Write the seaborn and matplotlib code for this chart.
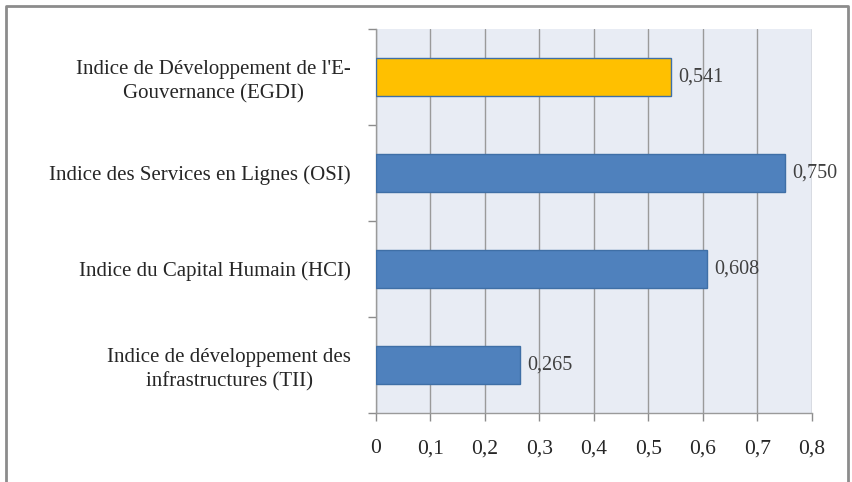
import matplotlib
matplotlib.use("Agg")
import matplotlib.pyplot as plt
import matplotlib.ticker as mticker
from matplotlib.lines import Line2D
import pandas as pd
import seaborn as sns

# Data
categories = [
    "Indice de Développement de l'E-\nGouvernance (EGDI)",
    "Indice des Services en Lignes (OSI)",
    "Indice du Capital Humain (HCI)",
    "Indice de développement des\ninfrastructures (TII)",
]
values = [0.541, 0.750, 0.608, 0.265]
groups = ["EGDI", "autre", "autre", "autre"]
xticks = [0, 0.1, 0.2, 0.3, 0.4, 0.5, 0.6, 0.7, 0.8]

df = pd.DataFrame({"indice": categories, "valeur": values, "groupe": groups})

sns.set_theme(style="white")
plt.rcParams["font.family"] = ["Liberation Serif", "DejaVu Serif"]

fig = plt.figure(figsize=(8.53, 4.82), dpi=100)
ax = fig.add_axes([0.4408, 0.1432, 0.5111, 0.7967])

sns.barplot(data=df, x="valeur", y="indice", hue="groupe", orient="h",
            palette={"EGDI": "#FFC000", "autre": "#4F81BD"}, saturation=1,
            width=0.4, dodge=False, legend=False, ax=ax, zorder=3)
for p in ax.patches:
    p.set_edgecolor("#3F6FA6")
    p.set_linewidth(1.0)

# value labels with decimal comma
for i, v in enumerate(values):
    ax.text(v + 0.013, i, f"{v:.3f}".replace(".", ","), va="center", ha="left",
            fontsize=14.5, color="#404040", zorder=4)

ax.set_facecolor("#E8ECF4")
ax.set_xlim(0, 0.8)
ax.set_ylim(3.5, -0.5)
ax.set_xticks(xticks)
ax.xaxis.set_major_formatter(mticker.FuncFormatter(
    lambda x, pos: "0" if x == 0 else f"{x:.1f}".replace(".", ",")))
ax.grid(axis="x", color="#9a9a9a", linewidth=1.0, zorder=0)
ax.set_axisbelow(True)

# y ticks at category boundaries, labels at centres
ax.set_yticks(range(len(categories)))
ax.set_yticklabels(categories, multialignment="center", linespacing=1.35)
ax.set_yticks([-0.5, 0.5, 1.5, 2.5, 3.5], minor=True)
ax.tick_params(axis="y", which="major", left=True, length=0, pad=18,
               labelsize=15, labelcolor="#262626")
ax.tick_params(axis="y", which="minor", left=True, length=6, color="#8c8c8c", width=1)
ax.tick_params(axis="x", bottom=True, length=6, color="#8c8c8c", width=1, pad=13,
               labelsize=15.5, labelcolor="#262626", direction="out")
ax.set_xlabel("")
ax.set_ylabel("")

for side in ["top", "right"]:
    ax.spines[side].set_visible(False)
for side in ["left", "bottom"]:
    ax.spines[side].set_color("#9a9a9a")
    ax.spines[side].set_linewidth(1.0)

# outer chart frame (left, top, right)
frame = Line2D([6 / 853, 6 / 853, 848 / 853, 848 / 853],
               [0, 1 - 6 / 482, 1 - 6 / 482, 0],
               transform=fig.transFigure, color="#8c8c8c", linewidth=2.0)
fig.add_artist(frame)

fig.savefig("out.png", dpi=100)
